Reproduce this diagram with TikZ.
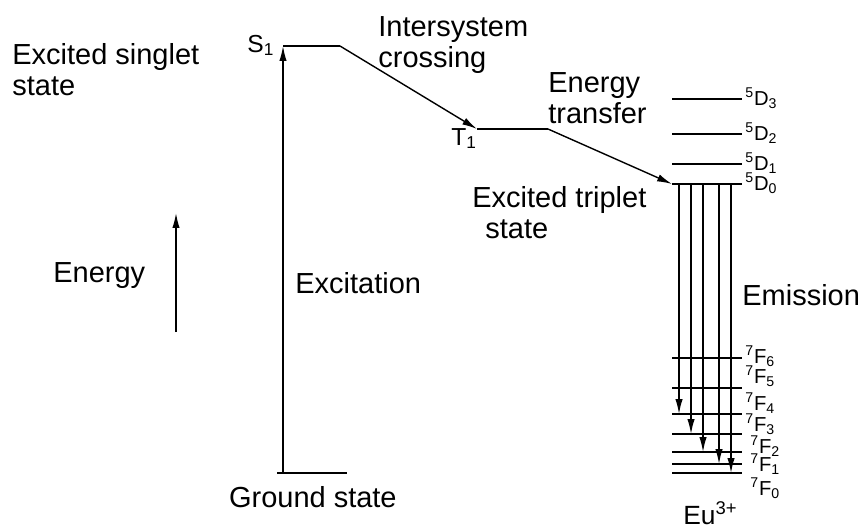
\documentclass[tikz,border=0pt]{standalone}
\usepackage{fontspec}
\setmainfont{Liberation Sans}
\usetikzlibrary{arrows.meta}

\tikzset{
  lvl/.style={line width=0.8pt},
  arr/.style={line width=0.8pt,-{Latex[length=8.5pt,width=4.2pt]}},
  txt/.style={inner sep=0pt,align=left,font=\fontsize{16.5pt}{17.5pt}\selectfont},
  lab/.style={inner sep=0pt,font=\fontsize{14pt}{16pt}\selectfont},
  term/.style={inner sep=0pt,font=\fontsize{11.5pt}{13pt}\selectfont}
}

\begin{document}
\begin{tikzpicture}[x=0.02cm,y=-0.02cm]
  \useasboundingbox (0,0) rectangle (865,529);
  % singlet, triplet and ground levels
  \draw[lvl] (283,46) coordinate (s1l) -- (340,46) coordinate (s1r);
  \draw[lvl] (477,129) coordinate (t1l) -- (548,129) coordinate (t1r);
  \draw[lvl] (277,473) -- (347,473);
  \coordinate (gnd) at (283,473);
  \node[lab,anchor=base west] (s1) at (247,52) {S\textsubscript{1}};
  \node[lab,anchor=base west] (t1) at (451,145) {T\textsubscript{1}};
  % Eu3+ levels
  \foreach \y/\n in {99/3,134/2,164/1,184/0}{
    \draw[lvl] (672,\y) coordinate (d\n) -- (742,\y);
    \node[term,anchor=base west] (d\n lab) at (745,\y+6) {\textsuperscript{5}D\textsubscript{\n}};
  }
  \foreach \y/\n/\lx/\ly in {358/6/745/363,388/5/745/383,414/4/745/410,434/3/745/431,
                             452/2/750/453,464/1/750/471,473/0/750/495}{
    \draw[lvl] (672,\y) coordinate (f\n) -- (742,\y);
    \node[term,anchor=base west] (f\n lab) at (\lx,\ly) {\textsuperscript{7}F\textsubscript{\n}};
  }
  % emission
  \foreach \x/\y [count=\i] in {679/414,691/434,703/452,719/464,731/473}{
    \coordinate (e\i) at (\x,184);
    \coordinate (g\i) at (\x,\y);
    \draw[arr] (e\i) -- (g\i);
  }
  \draw[arr] (gnd) -- (s1l);
  \draw[arr] (s1r) -- (t1l);
  \draw[arr] (t1r) -- (d0);
  \coordinate (elo) at (176,332);
  \coordinate (ehi) at (176,213);
  \draw[arr] (elo) -- (ehi);
  % texts
  \node[txt,anchor=base west] (singlet) at (12,95) {Excited singlet\\state};
  \node[txt,anchor=base west] (isc) at (378,67) {Intersystem\\crossing};
  \node[txt,anchor=base west] (transfer) at (548,123) {Energy\\transfer};
  \node[txt,anchor=base west] (triplet) at (472,238) {Excited triplet\\\hspace*{0.45em}state};
  \node[txt,anchor=base west] (energy) at (53,282) {Energy};
  \node[txt,anchor=base west] (excit) at (295,293) {Excitation};
  \node[txt,anchor=base west] (emis) at (742,305) {Emission};
  \node[txt,anchor=base east] (ground) at (397,507) {Ground state};
  \node[txt,anchor=base west,font=\fontsize{15pt}{17pt}\selectfont] (eu) at (683,524) {Eu\textsuperscript{3+}};
\end{tikzpicture}
\end{document}
